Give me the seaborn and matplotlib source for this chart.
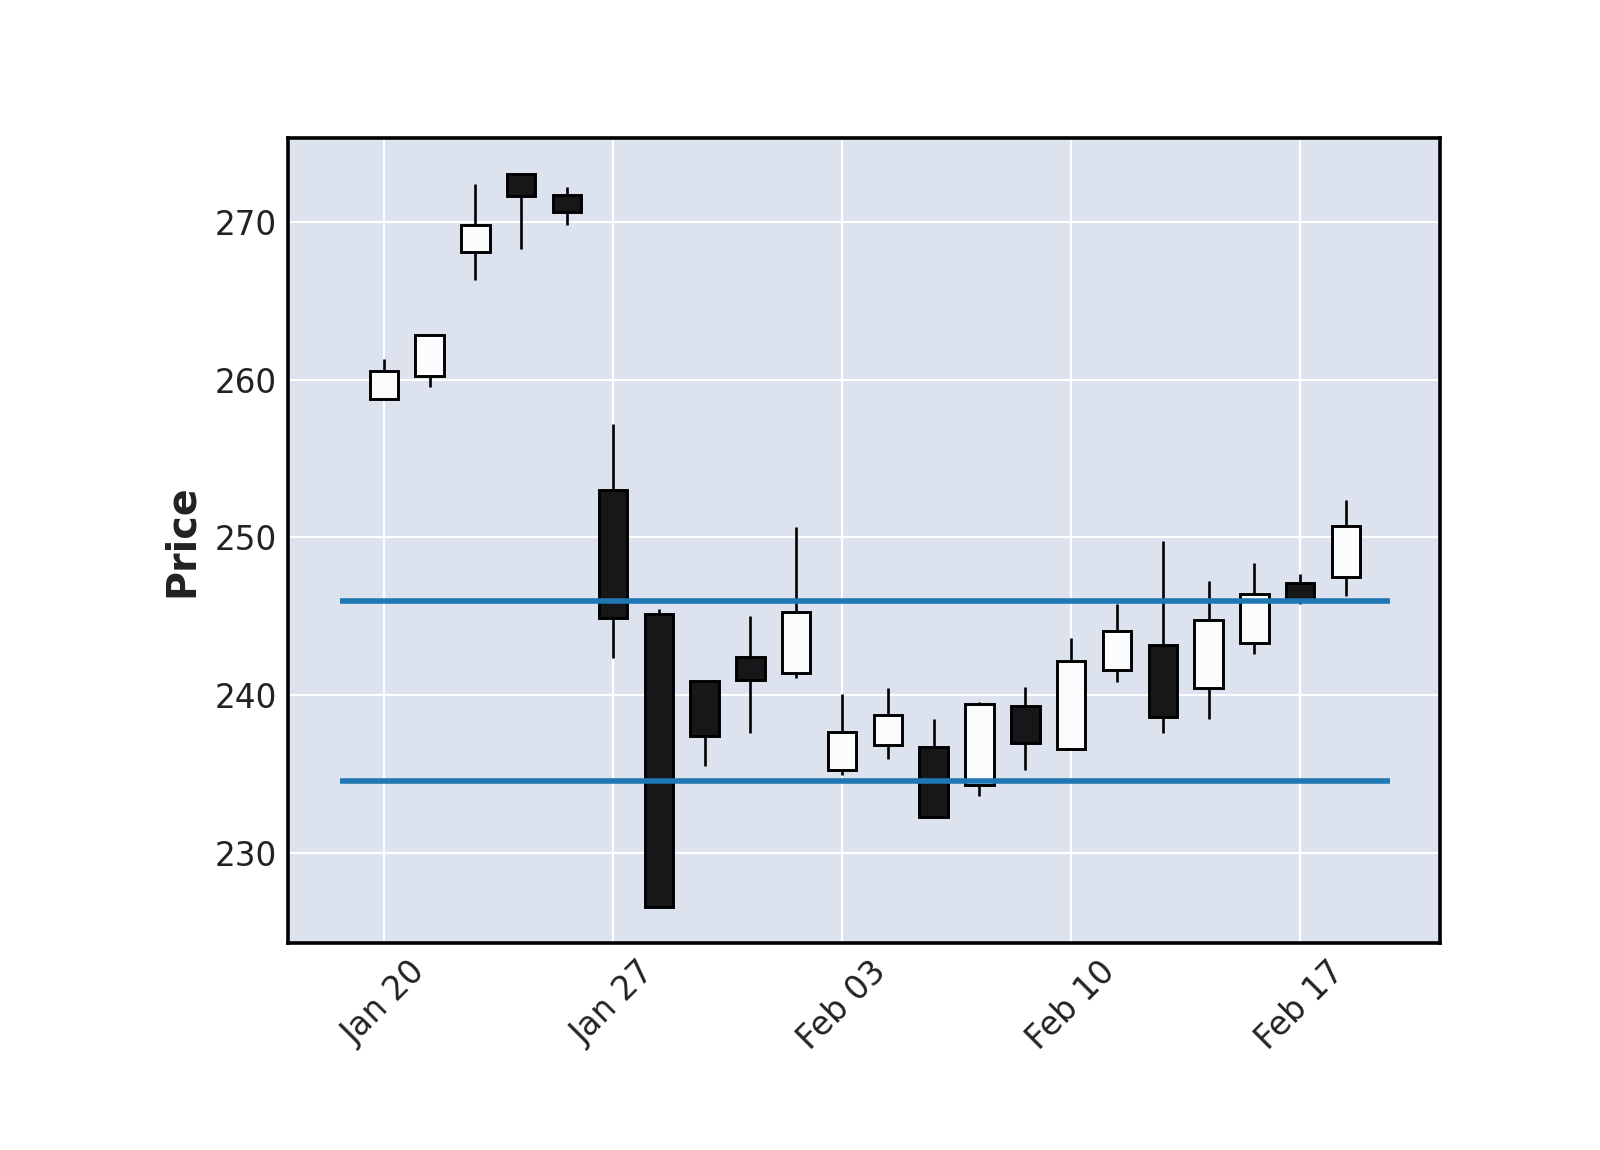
import matplotlib
matplotlib.use("Agg")
import matplotlib.pyplot as plt
import seaborn as sns
import numpy as np
import pandas as pd

# trading days shown on the chart
dates = pd.to_datetime([
    "2020-01-20", "2020-01-21", "2020-01-22", "2020-01-23", "2020-01-24",
    "2020-01-27", "2020-01-28", "2020-01-29", "2020-01-30", "2020-01-31",
    "2020-02-03", "2020-02-04", "2020-02-05", "2020-02-06", "2020-02-07",
    "2020-02-10", "2020-02-11", "2020-02-12", "2020-02-13", "2020-02-14",
    "2020-02-17", "2020-02-18",
])
opens = [258.8, 260.2, 268.1, 273.0, 271.7, 253.0, 245.15, 240.9, 242.45, 241.45,
         235.25, 236.85, 236.75, 234.3, 239.35, 236.6, 241.6, 243.2, 240.5, 243.35,
         247.15, 247.5]
highs = [261.3, 262.85, 272.4, 273.0, 272.2, 257.2, 245.5, 240.9, 245.0, 250.65,
         240.1, 240.5, 238.5, 239.6, 240.55, 243.65, 245.8, 249.75, 247.25, 248.4,
         247.7, 252.4]
lows = [258.7, 259.5, 266.3, 268.3, 269.8, 242.35, 226.6, 235.5, 237.6, 241.1,
        234.95, 235.95, 232.3, 233.65, 235.3, 236.6, 240.85, 237.6, 238.5, 242.6,
        245.8, 246.3]
closes = [260.55, 262.85, 269.8, 271.65, 270.6, 244.9, 226.6, 237.4, 240.95, 245.3,
          237.7, 238.75, 232.3, 239.45, 237.0, 242.2, 244.1, 238.65, 244.8, 246.45,
          246.1, 250.75]

# horizontal levels
hline_levels = [246.0, 234.6]

df = pd.DataFrame({"Date": dates, "Open": opens, "High": highs,
                   "Low": lows, "Close": closes})
df["idx"] = np.arange(len(df))
df["up"] = df["Close"] >= df["Open"]

sns.set_theme(style="darkgrid", rc={
    "axes.facecolor": "#DCE3EF",
    "grid.color": "white",
    "grid.linewidth": 1.5,
    "axes.edgecolor": "black",
    "axes.linewidth": 2.6,
})
plt.rcParams["font.family"] = ["DejaVu Sans"]

fig = plt.figure(figsize=(16, 11.5), dpi=100)
ax = fig.add_axes([0.18, 0.18, 0.72, 0.70])

up_fill = "#FBFCFD"
down_fill = "#17171A"
colors = [up_fill if u else down_fill for u in df["up"]]
bottoms = np.minimum(df["Open"], df["Close"])
heights = np.abs(df["Close"] - df["Open"])

# wicks
ax.vlines(df["idx"], df["Low"], df["High"], color="black", linewidth=1.9, zorder=2)
# bodies
ax.bar(df["idx"], heights, bottom=bottoms, width=0.62, color=colors,
       edgecolor="black", linewidth=2.1, zorder=3)

# horizontal levels
ax.hlines(hline_levels, -0.95, len(df) - 1 + 0.95, colors="#1F77B4",
          linewidth=4, zorder=4)

ax.set_xlim(-2.09, 23.05)
ax.set_ylim(224.32, 275.30)

tick_idx = [0, 5, 10, 15, 20]
ax.set_xticks(tick_idx)
ax.set_xticklabels([df["Date"][i].strftime("%b %d") for i in tick_idx],
                   rotation=45, ha="center")
ax.set_yticks([230, 240, 250, 260, 270])

ax.tick_params(axis="both", length=0, labelsize=23.5, colors="#222222", pad=8)
ax.tick_params(axis="x", pad=9)
ax.set_ylabel("Price", fontsize=28.5, fontweight="bold", color="#222222", labelpad=9)

for s in ax.spines.values():
    s.set_visible(True)
    s.set_color("black")
    s.set_linewidth(2.6)
    s.set_zorder(10)

ax.set_axisbelow(True)

fig.savefig("out.png", dpi=100)
